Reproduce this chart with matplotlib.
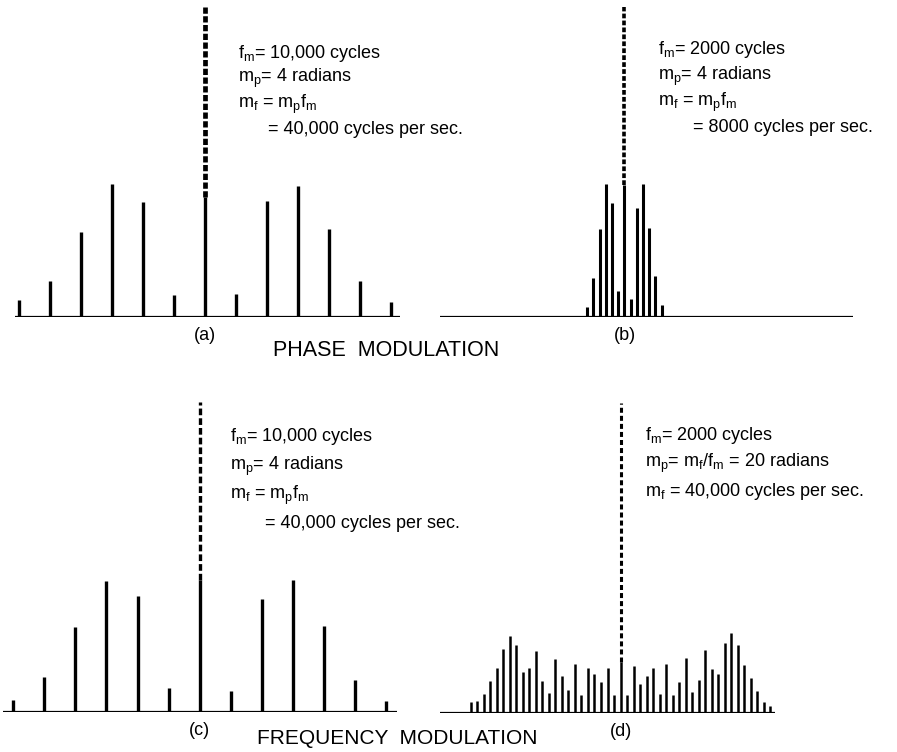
"""
Sideband spectra: phase modulation vs frequency modulation
"""
import matplotlib
matplotlib.use('Agg')
import matplotlib.pyplot as plt

plt.rcParams['font.family'] = ['Liberation Sans', 'DejaVu Sans']
plt.rcParams['mathtext.fontset'] = 'custom'
plt.rcParams['mathtext.rm'] = 'Liberation Sans'
plt.rcParams['mathtext.it'] = 'Liberation Sans'
plt.rcParams['lines.scale_dashes'] = False

# sideband offsets from carrier (kHz) and amplitudes (relative to unmodulated carrier)
offsets_a = [-60, -50, -40, -30, -20, -10, 0, 10, 20, 30, 40, 50, 60]
amps_a = [0.054, 0.115, 0.272, 0.429, 0.371, 0.071, 0.387, 0.073, 0.373, 0.422, 0.282, 0.116, 0.047]

offsets_b = [-12, -10, -8, -6, -4, -2, 0, 2, 4, 6, 8, 10, 12]
amps_b = [0.030, 0.124, 0.282, 0.428, 0.366, 0.083, 0.425, 0.056, 0.352, 0.428, 0.286, 0.132, 0.037]

offsets_c = [-60, -50, -40, -30, -20, -10, 0, 10, 20, 30, 40, 50, 60]
amps_c = [0.038, 0.111, 0.274, 0.423, 0.373, 0.075, 0.425, 0.068, 0.365, 0.425, 0.278, 0.102, 0.035]

offsets_d = list(range(-46, 47, 2))
amps_d = [0.035, 0.038, 0.060, 0.103, 0.143, 0.207, 0.249, 0.218, 0.132, 0.145, 0.198, 0.101,
          0.062, 0.172, 0.120, 0.073, 0.158, 0.056, 0.145, 0.126, 0.098, 0.143, 0.057,
          0.165,
          0.057, 0.151, 0.091, 0.120, 0.143, 0.060, 0.157, 0.057, 0.100, 0.178, 0.068, 0.104,
          0.203, 0.142, 0.126, 0.224, 0.257, 0.217, 0.155, 0.111, 0.069, 0.036, 0.023]

carrier = 1.0

notes_a = [r'$\mathrm{f_m}$= 10,000 cycles', r'$\mathrm{m_p}$= 4 radians',
           r'$\mathrm{m_f}$ = $\mathrm{m_p f_m}$', '      = 40,000 cycles per sec.']
notes_b = [r'$\mathrm{f_m}$= 2000 cycles', r'$\mathrm{m_p}$= 4 radians',
           r'$\mathrm{m_f}$ = $\mathrm{m_p f_m}$', '       = 8000 cycles per sec.']
notes_c = [r'$\mathrm{f_m}$= 10,000 cycles', r'$\mathrm{m_p}$= 4 radians',
           r'$\mathrm{m_f}$ = $\mathrm{m_p f_m}$', '       = 40,000 cycles per sec.']
notes_d = [r'$\mathrm{f_m}$= 2000 cycles', r'$\mathrm{m_p}$= $\mathrm{m_f/f_m}$ = 20 radians',
           r'$\mathrm{m_f}$ = 40,000 cycles per sec.']

W, H = 897, 752
PX_PER_UNIT = 310.0
YTOP = 1.03

fig = plt.figure(figsize=(W / 100, H / 100), dpi=100)
fig.patch.set_facecolor('white')


def panel(left, right, base, xlim, offs, amps, bar_lw, dash_lw, dash, label, notes,
          note_x, note_y, line_gap):
    ax = fig.add_axes([left / W, 1 - base / H, (right - left) / W, YTOP * PX_PER_UNIT / H])
    ax.set_xlim(*xlim)
    ax.set_ylim(0, YTOP)
    ax.axis('off')
    ax.axhline(0, color='black', lw=1.6)
    ax.vlines(offs, 0, amps, colors='black', lw=bar_lw)
    centre = amps[offs.index(0)]
    ax.vlines([0], centre, carrier, colors='black', lw=dash_lw, linestyles=[(0, dash)])
    ax.text(0, -0.06, label, ha='center', va='center', fontsize=13, transform=ax.transData)
    for i, t in enumerate(notes):
        fig.text(note_x / W, 1 - (note_y + i * line_gap) / H, t, ha='left', va='center',
                 fontsize=13)
    return ax


panel(15, 400, 316.7, (-61.4, 63.0), offsets_a, amps_a, 2.4, 3.4, (4.5, 1.8), '(a)',
      notes_a, 238, 53, 25.5)
panel(440, 853, 316.7, (-59.5, 73.7), offsets_b, amps_b, 2.2, 2.6, (3.4, 1.6), '(b)',
      notes_b, 658, 50, 26)
panel(3, 397, 711.7, (-63.3, 63.5), offsets_c, amps_c, 2.4, 2.4, (4.8, 2.2), '(c)',
      notes_c, 230, 437, 29)
panel(440, 775, 712.7, (-55.4, 47.4), offsets_d, amps_d, 1.8, 2.2, (3.6, 2.2), '(d)',
      notes_d, 645, 435, 28.5)

fig.text(386 / W, 1 - 350 / H, 'PHASE  MODULATION', ha='center', va='center',
         fontsize=15.5)
fig.text(397 / W, 1 - 739 / H, 'FREQUENCY  MODULATION', ha='center', va='center',
         fontsize=15)

fig.savefig('out.png', dpi=100, facecolor='white')
